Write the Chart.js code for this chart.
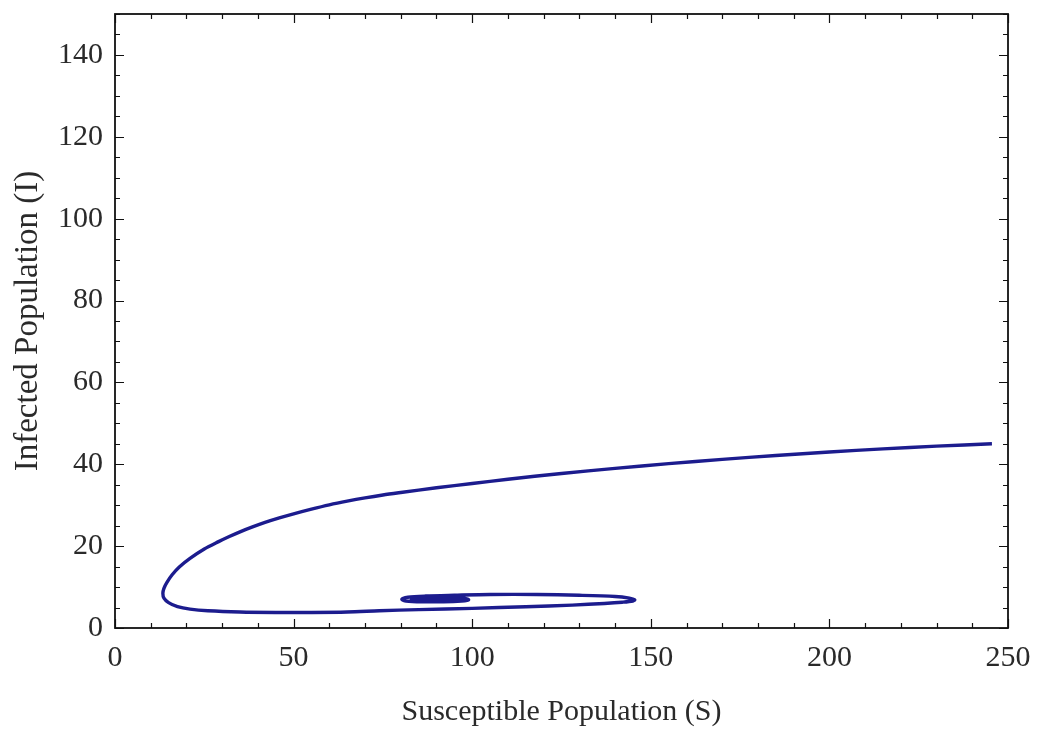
<!DOCTYPE html>
<html>
<head>
<meta charset="utf-8">
<title>Infected vs Susceptible</title>
<script src="https://cdn.jsdelivr.net/npm/chart.js@4.4.0/dist/chart.umd.min.js"></script>
<style>
  html, body { margin: 0; padding: 0; background: #fff; }
  #wrap { width: 1041px; height: 733px; }
</style>
</head>
<body>
<div id="wrap"><canvas id="phase" width="1041" height="733"></canvas></div>
<script>
// Phase-plane trajectory: susceptible (S) vs infected (I)
const susceptible = [
  245.5, 230, 215, 200, 185, 170, 155, 140, 125, 110, 100, 90, 80, 75, 70, 65, 60, 55, 50, 46, 42, 38.5, 35, 32, 29, 25,
  21, 18, 16, 14.5, 13.7, 13.4, 13.7, 15, 17.5, 21, 26, 35, 45, 55, 65, 74, 85, 100, 115,
  128, 137, 142, 145, 145.5, 144, 140, 130, 118, 105, 95, 87, 82, 80.3, 81.5, 86, 92, 97, 99, 97.5,
  92, 86, 83, 84.5, 90, 95, 96.5, 93, 88, 86.5, 89, 93, 94, 91.5
];
const infected = [
  45, 44.42, 43.75, 43.0, 42.15, 41.2, 40.15, 39.0, 37.75, 36.35, 35.3, 34.25, 33.1, 32.5, 31.8, 31.0, 30.1, 29.05, 27.9, 26.9, 25.8, 24.7, 23.5, 22.35, 21.1, 19.3,
  17.0, 14.9, 13.0, 11.1, 9.7, 8.5, 7.3, 6.2, 5.2, 4.6, 4.2, 3.9, 3.8, 3.8, 3.9, 4.2, 4.5, 4.8, 5.2,
  5.6, 6.0, 6.3, 6.6, 6.9, 7.3, 7.7, 8.0, 8.2, 8.2, 8.0, 7.8, 7.5, 7.0, 6.6, 6.4, 6.4, 6.6, 6.9, 7.3,
  7.5, 7.4, 7.1, 6.7, 6.5, 6.6, 6.9, 7.2, 7.2, 6.9, 6.7, 6.8, 6.9, 7.0
];

const xMajor = 50, xMinor = 10, xMax = 250;
const yMajor = 20, yMinor = 5, yMax = 150;

const FONT = 'Liberation Serif';
const TEXT_COLOR = '#2a2a2a';
const LINE_COLOR = '#1c1c8e';

const points = susceptible.map((s, i) => ({ x: s, y: infected[i] }));

// Mathematica-style frame: box around the plot, inward ticks on all four sides
const frameTicks = {
  id: 'frameTicks',
  afterDraw(chart) {
    const { ctx, chartArea: a } = chart;
    const xs = chart.scales.x, ys = chart.scales.y;
    ctx.save();
    ctx.strokeStyle = '#111';
    ctx.lineWidth = 1.2;
    ctx.beginPath();
    xs.ticks.forEach(t => {
      const px = Math.round(xs.getPixelForValue(t.value)) + 0.5;
      const len = t.value % xMajor === 0 ? 9 : 5;
      ctx.moveTo(px, a.bottom); ctx.lineTo(px, a.bottom - len);
      ctx.moveTo(px, a.top); ctx.lineTo(px, a.top + len);
    });
    ys.ticks.forEach(t => {
      const py = Math.round(ys.getPixelForValue(t.value)) + 0.5;
      const len = t.value % yMajor === 0 ? 9 : 5;
      ctx.moveTo(a.left, py); ctx.lineTo(a.left + len, py);
      ctx.moveTo(a.right, py); ctx.lineTo(a.right - len, py);
    });
    ctx.stroke();
    ctx.lineWidth = 1.8;
    ctx.strokeRect(a.left, a.top, a.right - a.left, a.bottom - a.top);
    ctx.restore();
  }
};

new Chart(document.getElementById('phase'), {
  type: 'scatter',
  data: {
    datasets: [{
      data: points,
      showLine: true,
      borderColor: LINE_COLOR,
      borderWidth: 3.4,
      pointRadius: 0,
      tension: 0.3,
      fill: false
    }]
  },
  options: {
    responsive: false,
    animation: false,
    layout: { padding: { top: 14, right: 33, left: 0, bottom: 0 } },
    plugins: {
      legend: { display: false },
      tooltip: { enabled: false }
    },
    scales: {
      x: {
        type: 'linear',
        min: 0,
        max: xMax,
        afterFit(scale) {
          scale.height = 105;
          scale.paddingLeft = 0;
          scale.paddingRight = 0;
        },
        grid: { display: false },
        border: { display: false },
        ticks: {
          stepSize: xMinor,
          autoSkip: false,
          maxRotation: 0,
          padding: 4,
          color: TEXT_COLOR,
          font: { family: FONT, size: 30 },
          callback: v => (v % xMajor === 0 ? String(v) : '')
        },
        title: {
          display: true,
          text: 'Susceptible Population (S)',
          color: TEXT_COLOR,
          font: { family: FONT, size: 30 },
          padding: { top: 0, bottom: 3 }
        }
      },
      y: {
        type: 'linear',
        min: 0,
        max: yMax,
        afterFit(scale) {
          scale.width = 115;
          scale.paddingTop = 0;
          scale.paddingBottom = 0;
        },
        grid: { display: false },
        border: { display: false },
        ticks: {
          stepSize: yMinor,
          autoSkip: false,
          padding: 4,
          color: TEXT_COLOR,
          font: { family: FONT, size: 30 },
          callback: v => (v % yMajor === 0 ? String(v) : '')
        },
        title: {
          display: true,
          text: 'Infected Population (I)',
          color: TEXT_COLOR,
          font: { family: FONT, size: 33 },
          padding: { top: 9, bottom: 0 }
        }
      }
    }
  },
  plugins: [frameTicks]
});
</script>
</body>
</html>
